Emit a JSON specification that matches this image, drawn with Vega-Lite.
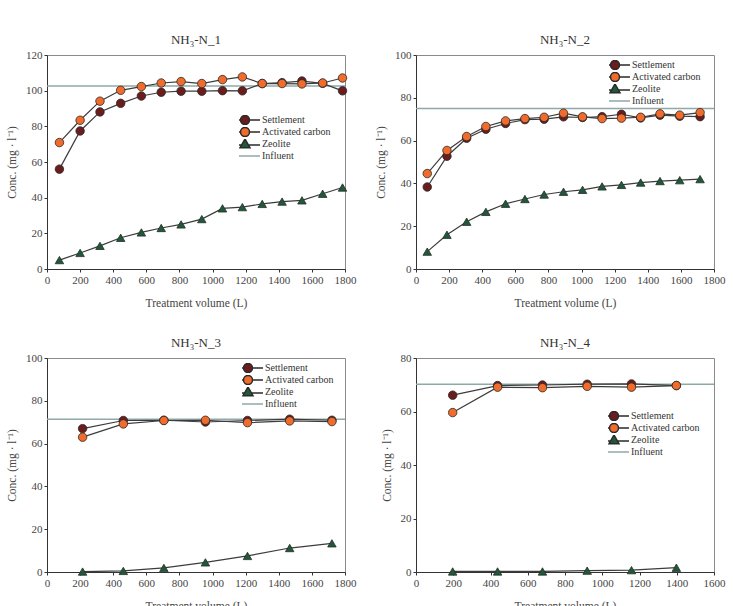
{
  "$schema": "https://vega.github.io/schema/vega-lite/v6.json",
  "padding": {"top": 33, "left": 6, "right": 0, "bottom": 0},
  "background": "white",
  "datasets": {
    "points": [
      {"panel": 1, "series": "Settlement", "volume": 75, "conc": 56.0},
      {"panel": 1, "series": "Settlement", "volume": 200, "conc": 77.4},
      {"panel": 1, "series": "Settlement", "volume": 320, "conc": 88.1},
      {"panel": 1, "series": "Settlement", "volume": 445, "conc": 92.9},
      {"panel": 1, "series": "Settlement", "volume": 570, "conc": 97.0},
      {"panel": 1, "series": "Settlement", "volume": 690, "conc": 99.1},
      {"panel": 1, "series": "Settlement", "volume": 810, "conc": 99.7},
      {"panel": 1, "series": "Settlement", "volume": 935, "conc": 99.7},
      {"panel": 1, "series": "Settlement", "volume": 1060, "conc": 100.0},
      {"panel": 1, "series": "Settlement", "volume": 1180, "conc": 99.9},
      {"panel": 1, "series": "Settlement", "volume": 1300, "conc": 104.0},
      {"panel": 1, "series": "Settlement", "volume": 1420, "conc": 104.5},
      {"panel": 1, "series": "Settlement", "volume": 1540, "conc": 105.4},
      {"panel": 1, "series": "Settlement", "volume": 1665, "conc": 104.1},
      {"panel": 1, "series": "Settlement", "volume": 1785, "conc": 99.9},
      {"panel": 1, "series": "Activated carbon", "volume": 75, "conc": 70.9},
      {"panel": 1, "series": "Activated carbon", "volume": 200, "conc": 83.4},
      {"panel": 1, "series": "Activated carbon", "volume": 320, "conc": 94.1},
      {"panel": 1, "series": "Activated carbon", "volume": 445, "conc": 100.2},
      {"panel": 1, "series": "Activated carbon", "volume": 570, "conc": 102.3},
      {"panel": 1, "series": "Activated carbon", "volume": 690, "conc": 104.3},
      {"panel": 1, "series": "Activated carbon", "volume": 810, "conc": 105.1},
      {"panel": 1, "series": "Activated carbon", "volume": 935, "conc": 104.0},
      {"panel": 1, "series": "Activated carbon", "volume": 1060, "conc": 106.2},
      {"panel": 1, "series": "Activated carbon", "volume": 1180, "conc": 107.7},
      {"panel": 1, "series": "Activated carbon", "volume": 1300, "conc": 104.0},
      {"panel": 1, "series": "Activated carbon", "volume": 1420, "conc": 104.0},
      {"panel": 1, "series": "Activated carbon", "volume": 1540, "conc": 103.8},
      {"panel": 1, "series": "Activated carbon", "volume": 1665, "conc": 104.3},
      {"panel": 1, "series": "Activated carbon", "volume": 1785, "conc": 107.1},
      {"panel": 1, "series": "Zeolite", "volume": 75, "conc": 5.0},
      {"panel": 1, "series": "Zeolite", "volume": 200, "conc": 9.0},
      {"panel": 1, "series": "Zeolite", "volume": 320, "conc": 13.0},
      {"panel": 1, "series": "Zeolite", "volume": 445, "conc": 17.5},
      {"panel": 1, "series": "Zeolite", "volume": 570, "conc": 20.5},
      {"panel": 1, "series": "Zeolite", "volume": 690, "conc": 23.0},
      {"panel": 1, "series": "Zeolite", "volume": 810, "conc": 25.0},
      {"panel": 1, "series": "Zeolite", "volume": 935, "conc": 28.0},
      {"panel": 1, "series": "Zeolite", "volume": 1060, "conc": 34.0},
      {"panel": 1, "series": "Zeolite", "volume": 1180, "conc": 34.7},
      {"panel": 1, "series": "Zeolite", "volume": 1300, "conc": 36.5},
      {"panel": 1, "series": "Zeolite", "volume": 1420, "conc": 37.8},
      {"panel": 1, "series": "Zeolite", "volume": 1540, "conc": 38.5},
      {"panel": 1, "series": "Zeolite", "volume": 1665, "conc": 42.2},
      {"panel": 1, "series": "Zeolite", "volume": 1785, "conc": 45.7},

      {"panel": 2, "series": "Settlement", "volume": 68, "conc": 38.3},
      {"panel": 2, "series": "Settlement", "volume": 187, "conc": 52.7},
      {"panel": 2, "series": "Settlement", "volume": 306, "conc": 61.1},
      {"panel": 2, "series": "Settlement", "volume": 422, "conc": 65.3},
      {"panel": 2, "series": "Settlement", "volume": 541, "conc": 68.0},
      {"panel": 2, "series": "Settlement", "volume": 658, "conc": 69.8},
      {"panel": 2, "series": "Settlement", "volume": 774, "conc": 70.0},
      {"panel": 2, "series": "Settlement", "volume": 891, "conc": 71.1},
      {"panel": 2, "series": "Settlement", "volume": 1006, "conc": 70.8},
      {"panel": 2, "series": "Settlement", "volume": 1124, "conc": 71.2},
      {"panel": 2, "series": "Settlement", "volume": 1241, "conc": 72.3},
      {"panel": 2, "series": "Settlement", "volume": 1357, "conc": 70.6},
      {"panel": 2, "series": "Settlement", "volume": 1474, "conc": 71.9},
      {"panel": 2, "series": "Settlement", "volume": 1593, "conc": 71.4},
      {"panel": 2, "series": "Settlement", "volume": 1716, "conc": 71.2},
      {"panel": 2, "series": "Activated carbon", "volume": 68, "conc": 44.6},
      {"panel": 2, "series": "Activated carbon", "volume": 187, "conc": 55.4},
      {"panel": 2, "series": "Activated carbon", "volume": 306, "conc": 61.9},
      {"panel": 2, "series": "Activated carbon", "volume": 422, "conc": 66.6},
      {"panel": 2, "series": "Activated carbon", "volume": 541, "conc": 69.2},
      {"panel": 2, "series": "Activated carbon", "volume": 658, "conc": 70.3},
      {"panel": 2, "series": "Activated carbon", "volume": 774, "conc": 70.9},
      {"panel": 2, "series": "Activated carbon", "volume": 891, "conc": 72.8},
      {"panel": 2, "series": "Activated carbon", "volume": 1006, "conc": 71.1},
      {"panel": 2, "series": "Activated carbon", "volume": 1124, "conc": 70.3},
      {"panel": 2, "series": "Activated carbon", "volume": 1241, "conc": 70.5},
      {"panel": 2, "series": "Activated carbon", "volume": 1357, "conc": 70.9},
      {"panel": 2, "series": "Activated carbon", "volume": 1474, "conc": 72.5},
      {"panel": 2, "series": "Activated carbon", "volume": 1593, "conc": 71.9},
      {"panel": 2, "series": "Activated carbon", "volume": 1716, "conc": 73.1},
      {"panel": 2, "series": "Zeolite", "volume": 68, "conc": 8.1},
      {"panel": 2, "series": "Zeolite", "volume": 187, "conc": 16.0},
      {"panel": 2, "series": "Zeolite", "volume": 306, "conc": 22.1},
      {"panel": 2, "series": "Zeolite", "volume": 422, "conc": 26.7},
      {"panel": 2, "series": "Zeolite", "volume": 541, "conc": 30.5},
      {"panel": 2, "series": "Zeolite", "volume": 658, "conc": 32.7},
      {"panel": 2, "series": "Zeolite", "volume": 774, "conc": 34.8},
      {"panel": 2, "series": "Zeolite", "volume": 891, "conc": 36.1},
      {"panel": 2, "series": "Zeolite", "volume": 1006, "conc": 37.0},
      {"panel": 2, "series": "Zeolite", "volume": 1124, "conc": 38.6},
      {"panel": 2, "series": "Zeolite", "volume": 1241, "conc": 39.3},
      {"panel": 2, "series": "Zeolite", "volume": 1357, "conc": 40.4},
      {"panel": 2, "series": "Zeolite", "volume": 1474, "conc": 41.1},
      {"panel": 2, "series": "Zeolite", "volume": 1593, "conc": 41.5},
      {"panel": 2, "series": "Zeolite", "volume": 1716, "conc": 42.0},

      {"panel": 3, "series": "Settlement", "volume": 215, "conc": 67.0},
      {"panel": 3, "series": "Settlement", "volume": 461, "conc": 70.8},
      {"panel": 3, "series": "Settlement", "volume": 706, "conc": 70.9},
      {"panel": 3, "series": "Settlement", "volume": 957, "conc": 70.1},
      {"panel": 3, "series": "Settlement", "volume": 1211, "conc": 70.8},
      {"panel": 3, "series": "Settlement", "volume": 1466, "conc": 71.4},
      {"panel": 3, "series": "Settlement", "volume": 1721, "conc": 70.9},
      {"panel": 3, "series": "Activated carbon", "volume": 215, "conc": 63.0},
      {"panel": 3, "series": "Activated carbon", "volume": 461, "conc": 69.2},
      {"panel": 3, "series": "Activated carbon", "volume": 706, "conc": 70.8},
      {"panel": 3, "series": "Activated carbon", "volume": 957, "conc": 70.9},
      {"panel": 3, "series": "Activated carbon", "volume": 1211, "conc": 69.8},
      {"panel": 3, "series": "Activated carbon", "volume": 1466, "conc": 70.6},
      {"panel": 3, "series": "Activated carbon", "volume": 1721, "conc": 70.3},
      {"panel": 3, "series": "Zeolite", "volume": 215, "conc": 0.2},
      {"panel": 3, "series": "Zeolite", "volume": 461, "conc": 0.5},
      {"panel": 3, "series": "Zeolite", "volume": 706, "conc": 1.9},
      {"panel": 3, "series": "Zeolite", "volume": 957, "conc": 4.5},
      {"panel": 3, "series": "Zeolite", "volume": 1211, "conc": 7.5},
      {"panel": 3, "series": "Zeolite", "volume": 1466, "conc": 11.2},
      {"panel": 3, "series": "Zeolite", "volume": 1721, "conc": 13.4},

      {"panel": 4, "series": "Settlement", "volume": 197, "conc": 66.1},
      {"panel": 4, "series": "Settlement", "volume": 438, "conc": 69.7},
      {"panel": 4, "series": "Settlement", "volume": 679, "conc": 69.9},
      {"panel": 4, "series": "Settlement", "volume": 919, "conc": 70.2},
      {"panel": 4, "series": "Settlement", "volume": 1157, "conc": 70.3},
      {"panel": 4, "series": "Settlement", "volume": 1398, "conc": 69.7},
      {"panel": 4, "series": "Activated carbon", "volume": 197, "conc": 59.6},
      {"panel": 4, "series": "Activated carbon", "volume": 438, "conc": 69.1},
      {"panel": 4, "series": "Activated carbon", "volume": 679, "conc": 68.9},
      {"panel": 4, "series": "Activated carbon", "volume": 919, "conc": 69.4},
      {"panel": 4, "series": "Activated carbon", "volume": 1157, "conc": 69.1},
      {"panel": 4, "series": "Activated carbon", "volume": 1398, "conc": 69.7},
      {"panel": 4, "series": "Zeolite", "volume": 197, "conc": 0.2},
      {"panel": 4, "series": "Zeolite", "volume": 438, "conc": 0.2},
      {"panel": 4, "series": "Zeolite", "volume": 679, "conc": 0.2},
      {"panel": 4, "series": "Zeolite", "volume": 919, "conc": 0.5},
      {"panel": 4, "series": "Zeolite", "volume": 1157, "conc": 0.7},
      {"panel": 4, "series": "Zeolite", "volume": 1398, "conc": 1.6}
    ],
    "influent": [
      {"panel": 1, "conc": 102.6},
      {"panel": 2, "conc": 75.0},
      {"panel": 3, "conc": 71.4},
      {"panel": 4, "conc": 70.2}
    ]
  },
  "columns": 2,
  "spacing": {"row": 27, "column": 18},
  "resolve": {
    "scale": {"color": "independent", "fill": "independent", "stroke": "independent", "shape": "independent"},
    "legend": {"color": "independent", "fill": "independent", "stroke": "independent", "shape": "independent"}
  },
  "concat": [
    {
      "title": "NH₃-N_1",
      "width": 298,
      "height": 214,
      "layer": [
        {
          "data": {"name": "influent"},
          "transform": [{"filter": "datum.panel === 1"}],
          "mark": {"type": "rule", "color": "#8fa9a9", "strokeWidth": 1.5},
          "encoding": {
            "y": {"field": "conc", "type": "quantitative", "scale": {"domain": [0, 120], "nice": false},
                  "axis": {"title": "Conc. (mg · l⁻¹)", "labelOverlap": false, "labelSeparation": 0, "tickCount": 7, "values": [0, 20, 40, 60, 80, 100, 120]}}
          }
        },
        {
          "data": {"name": "points"},
          "transform": [{"filter": "datum.panel === 1"}],
          "mark": {"type": "line", "color": "#3c3c3c", "strokeWidth": 1.2},
          "encoding": {
            "x": {"field": "volume", "type": "quantitative", "scale": {"domain": [0, 1800], "nice": false},
                  "axis": {"title": "Treatment volume (L)", "format": "d", "labelOverlap": false, "labelSeparation": 0, "tickCount": 10, "values": [0, 200, 400, 600, 800, 1000, 1200, 1400, 1600, 1800]}},
            "y": {"field": "conc", "type": "quantitative"},
            "detail": {"field": "series"}
          }
        },
        {
          "data": {"name": "points"},
          "transform": [{"filter": "datum.panel === 1 && datum.series !== 'Zeolite'"}],
          "mark": {"type": "point", "shape": "circle", "filled": true, "size": 72, "stroke": "#2a2a2a", "strokeWidth": 0.8, "opacity": 1},
          "encoding": {
            "x": {"field": "volume", "type": "quantitative"},
            "y": {"field": "conc", "type": "quantitative"},
            "color": {"field": "series", "type": "nominal", "legend": null,
                      "scale": {"domain": ["Settlement", "Activated carbon", "Zeolite"], "range": ["#6b1c1c", "#f06c2c", "#1e5a3a"]}}
          }
        },
        {
          "data": {"name": "points"},
          "transform": [{"filter": "datum.panel === 1 && datum.series === 'Zeolite'"}],
          "mark": {"type": "point", "shape": "triangle-up", "filled": true, "size": 72, "stroke": "#2a2a2a", "strokeWidth": 0.8, "opacity": 1},
          "encoding": {
            "x": {"field": "volume", "type": "quantitative"},
            "y": {"field": "conc", "type": "quantitative"},
            "color": {"field": "series", "type": "nominal", "legend": null}
          }
        },
        {
          "data": {"name": "points"},
          "transform": [{"filter": "false"}],
          "mark": {"type": "point", "filled": true, "size": 64, "strokeWidth": 1, "opacity": 1},
          "encoding": {
            "fill": {"field": "series", "type": "nominal",
                     "scale": {"domain": ["Settlement", "Activated carbon", "Zeolite", "Influent"], "range": ["#6b1c1c", "#f06c2c", "#1e5a3a", "transparent"]},
                     "legend": {"title": null, "orient": "none", "legendX": 192, "legendY": 60}},
            "stroke": {"field": "series", "type": "nominal",
                       "scale": {"domain": ["Settlement", "Activated carbon", "Zeolite", "Influent"], "range": ["#2a2a2a", "#2a2a2a", "#2a2a2a", "#8fa9a9"]},
                       "legend": {"title": null, "orient": "none", "legendX": 192, "legendY": 60}},
            "shape": {"field": "series", "type": "nominal",
                      "scale": {"domain": ["Settlement", "Activated carbon", "Zeolite", "Influent"],
                                "range": ["M-3,0H-0.9M0.9,0H3M-0.9,0A0.9,0.9,0,1,1,0.9,0A0.9,0.9,0,1,1,-0.9,0Z",
                                          "M-3,0H-0.9M0.9,0H3M-0.9,0A0.9,0.9,0,1,1,0.9,0A0.9,0.9,0,1,1,-0.9,0Z",
                                          "M-3,0.2H-0.7M0.7,0.2H3M0,-1L1,0.75L-1,0.75Z",
                                          "M-3,0H3"]},
                      "legend": {"title": null, "orient": "none", "legendX": 192, "legendY": 60}}
          }
        }
      ]
    },
    {
      "title": "NH₃-N_2",
      "width": 298,
      "height": 214,
      "layer": [
        {
          "data": {"name": "influent"},
          "transform": [{"filter": "datum.panel === 2"}],
          "mark": {"type": "rule", "color": "#8fa9a9", "strokeWidth": 1.5},
          "encoding": {
            "y": {"field": "conc", "type": "quantitative", "scale": {"domain": [0, 100], "nice": false},
                  "axis": {"title": "Conc. (mg · l⁻¹)", "labelOverlap": false, "labelSeparation": 0, "tickCount": 6, "values": [0, 20, 40, 60, 80, 100]}}
          }
        },
        {
          "data": {"name": "points"},
          "transform": [{"filter": "datum.panel === 2"}],
          "mark": {"type": "line", "color": "#3c3c3c", "strokeWidth": 1.2},
          "encoding": {
            "x": {"field": "volume", "type": "quantitative", "scale": {"domain": [0, 1800], "nice": false},
                  "axis": {"title": "Treatment volume (L)", "format": "d", "labelOverlap": false, "labelSeparation": 0, "tickCount": 10, "values": [0, 200, 400, 600, 800, 1000, 1200, 1400, 1600, 1800]}},
            "y": {"field": "conc", "type": "quantitative"},
            "detail": {"field": "series"}
          }
        },
        {
          "data": {"name": "points"},
          "transform": [{"filter": "datum.panel === 2 && datum.series !== 'Zeolite'"}],
          "mark": {"type": "point", "shape": "circle", "filled": true, "size": 72, "stroke": "#2a2a2a", "strokeWidth": 0.8, "opacity": 1},
          "encoding": {
            "x": {"field": "volume", "type": "quantitative"},
            "y": {"field": "conc", "type": "quantitative"},
            "color": {"field": "series", "type": "nominal", "legend": null,
                      "scale": {"domain": ["Settlement", "Activated carbon", "Zeolite"], "range": ["#6b1c1c", "#f06c2c", "#1e5a3a"]}}
          }
        },
        {
          "data": {"name": "points"},
          "transform": [{"filter": "datum.panel === 2 && datum.series === 'Zeolite'"}],
          "mark": {"type": "point", "shape": "triangle-up", "filled": true, "size": 72, "stroke": "#2a2a2a", "strokeWidth": 0.8, "opacity": 1},
          "encoding": {
            "x": {"field": "volume", "type": "quantitative"},
            "y": {"field": "conc", "type": "quantitative"},
            "color": {"field": "series", "type": "nominal", "legend": null}
          }
        },
        {
          "data": {"name": "points"},
          "transform": [{"filter": "false"}],
          "mark": {"type": "point", "filled": true, "size": 64, "strokeWidth": 1, "opacity": 1},
          "encoding": {
            "fill": {"field": "series", "type": "nominal",
                     "scale": {"domain": ["Settlement", "Activated carbon", "Zeolite", "Influent"], "range": ["#6b1c1c", "#f06c2c", "#1e5a3a", "transparent"]},
                     "legend": {"title": null, "orient": "none", "legendX": 193, "legendY": 5}},
            "stroke": {"field": "series", "type": "nominal",
                       "scale": {"domain": ["Settlement", "Activated carbon", "Zeolite", "Influent"], "range": ["#2a2a2a", "#2a2a2a", "#2a2a2a", "#8fa9a9"]},
                       "legend": {"title": null, "orient": "none", "legendX": 193, "legendY": 5}},
            "shape": {"field": "series", "type": "nominal",
                      "scale": {"domain": ["Settlement", "Activated carbon", "Zeolite", "Influent"],
                                "range": ["M-3,0H-0.9M0.9,0H3M-0.9,0A0.9,0.9,0,1,1,0.9,0A0.9,0.9,0,1,1,-0.9,0Z",
                                          "M-3,0H-0.9M0.9,0H3M-0.9,0A0.9,0.9,0,1,1,0.9,0A0.9,0.9,0,1,1,-0.9,0Z",
                                          "M-3,0.2H-0.7M0.7,0.2H3M0,-1L1,0.75L-1,0.75Z",
                                          "M-3,0H3"]},
                      "legend": {"title": null, "orient": "none", "legendX": 193, "legendY": 5}}
          }
        }
      ]
    },
    {
      "title": "NH₃-N_3",
      "width": 298,
      "height": 214,
      "layer": [
        {
          "data": {"name": "influent"},
          "transform": [{"filter": "datum.panel === 3"}],
          "mark": {"type": "rule", "color": "#8fa9a9", "strokeWidth": 1.5},
          "encoding": {
            "y": {"field": "conc", "type": "quantitative", "scale": {"domain": [0, 100], "nice": false},
                  "axis": {"title": "Conc. (mg · l⁻¹)", "labelOverlap": false, "labelSeparation": 0, "tickCount": 6, "values": [0, 20, 40, 60, 80, 100]}}
          }
        },
        {
          "data": {"name": "points"},
          "transform": [{"filter": "datum.panel === 3"}],
          "mark": {"type": "line", "color": "#3c3c3c", "strokeWidth": 1.2},
          "encoding": {
            "x": {"field": "volume", "type": "quantitative", "scale": {"domain": [0, 1800], "nice": false},
                  "axis": {"title": "Treatment volume (L)", "format": "d", "labelOverlap": false, "labelSeparation": 0, "tickCount": 10, "values": [0, 200, 400, 600, 800, 1000, 1200, 1400, 1600, 1800]}},
            "y": {"field": "conc", "type": "quantitative"},
            "detail": {"field": "series"}
          }
        },
        {
          "data": {"name": "points"},
          "transform": [{"filter": "datum.panel === 3 && datum.series !== 'Zeolite'"}],
          "mark": {"type": "point", "shape": "circle", "filled": true, "size": 72, "stroke": "#2a2a2a", "strokeWidth": 0.8, "opacity": 1},
          "encoding": {
            "x": {"field": "volume", "type": "quantitative"},
            "y": {"field": "conc", "type": "quantitative"},
            "color": {"field": "series", "type": "nominal", "legend": null,
                      "scale": {"domain": ["Settlement", "Activated carbon", "Zeolite"], "range": ["#6b1c1c", "#f06c2c", "#1e5a3a"]}}
          }
        },
        {
          "data": {"name": "points"},
          "transform": [{"filter": "datum.panel === 3 && datum.series === 'Zeolite'"}],
          "mark": {"type": "point", "shape": "triangle-up", "filled": true, "size": 72, "stroke": "#2a2a2a", "strokeWidth": 0.8, "opacity": 1},
          "encoding": {
            "x": {"field": "volume", "type": "quantitative"},
            "y": {"field": "conc", "type": "quantitative"},
            "color": {"field": "series", "type": "nominal", "legend": null}
          }
        },
        {
          "data": {"name": "points"},
          "transform": [{"filter": "false"}],
          "mark": {"type": "point", "filled": true, "size": 64, "strokeWidth": 1, "opacity": 1},
          "encoding": {
            "fill": {"field": "series", "type": "nominal",
                     "scale": {"domain": ["Settlement", "Activated carbon", "Zeolite", "Influent"], "range": ["#6b1c1c", "#f06c2c", "#1e5a3a", "transparent"]},
                     "legend": {"title": null, "orient": "none", "legendX": 195, "legendY": 5}},
            "stroke": {"field": "series", "type": "nominal",
                       "scale": {"domain": ["Settlement", "Activated carbon", "Zeolite", "Influent"], "range": ["#2a2a2a", "#2a2a2a", "#2a2a2a", "#8fa9a9"]},
                       "legend": {"title": null, "orient": "none", "legendX": 195, "legendY": 5}},
            "shape": {"field": "series", "type": "nominal",
                      "scale": {"domain": ["Settlement", "Activated carbon", "Zeolite", "Influent"],
                                "range": ["M-3,0H-0.9M0.9,0H3M-0.9,0A0.9,0.9,0,1,1,0.9,0A0.9,0.9,0,1,1,-0.9,0Z",
                                          "M-3,0H-0.9M0.9,0H3M-0.9,0A0.9,0.9,0,1,1,0.9,0A0.9,0.9,0,1,1,-0.9,0Z",
                                          "M-3,0.2H-0.7M0.7,0.2H3M0,-1L1,0.75L-1,0.75Z",
                                          "M-3,0H3"]},
                      "legend": {"title": null, "orient": "none", "legendX": 195, "legendY": 5}}
          }
        }
      ]
    },
    {
      "title": "NH₃-N_4",
      "width": 298,
      "height": 214,
      "layer": [
        {
          "data": {"name": "influent"},
          "transform": [{"filter": "datum.panel === 4"}],
          "mark": {"type": "rule", "color": "#8fa9a9", "strokeWidth": 1.5},
          "encoding": {
            "y": {"field": "conc", "type": "quantitative", "scale": {"domain": [0, 80], "nice": false},
                  "axis": {"title": "Conc. (mg · l⁻¹)", "labelOverlap": false, "labelSeparation": 0, "tickCount": 5, "values": [0, 20, 40, 60, 80]}}
          }
        },
        {
          "data": {"name": "points"},
          "transform": [{"filter": "datum.panel === 4"}],
          "mark": {"type": "line", "color": "#3c3c3c", "strokeWidth": 1.2},
          "encoding": {
            "x": {"field": "volume", "type": "quantitative", "scale": {"domain": [0, 1600], "nice": false},
                  "axis": {"title": "Treatment volume (L)", "format": "d", "labelOverlap": false, "labelSeparation": 0, "tickCount": 9, "values": [0, 200, 400, 600, 800, 1000, 1200, 1400, 1600]}},
            "y": {"field": "conc", "type": "quantitative"},
            "detail": {"field": "series"}
          }
        },
        {
          "data": {"name": "points"},
          "transform": [{"filter": "datum.panel === 4 && datum.series !== 'Zeolite'"}],
          "mark": {"type": "point", "shape": "circle", "filled": true, "size": 72, "stroke": "#2a2a2a", "strokeWidth": 0.8, "opacity": 1},
          "encoding": {
            "x": {"field": "volume", "type": "quantitative"},
            "y": {"field": "conc", "type": "quantitative"},
            "color": {"field": "series", "type": "nominal", "legend": null,
                      "scale": {"domain": ["Settlement", "Activated carbon", "Zeolite"], "range": ["#6b1c1c", "#f06c2c", "#1e5a3a"]}}
          }
        },
        {
          "data": {"name": "points"},
          "transform": [{"filter": "datum.panel === 4 && datum.series === 'Zeolite'"}],
          "mark": {"type": "point", "shape": "triangle-up", "filled": true, "size": 72, "stroke": "#2a2a2a", "strokeWidth": 0.8, "opacity": 1},
          "encoding": {
            "x": {"field": "volume", "type": "quantitative"},
            "y": {"field": "conc", "type": "quantitative"},
            "color": {"field": "series", "type": "nominal", "legend": null}
          }
        },
        {
          "data": {"name": "points"},
          "transform": [{"filter": "false"}],
          "mark": {"type": "point", "filled": true, "size": 64, "strokeWidth": 1, "opacity": 1},
          "encoding": {
            "fill": {"field": "series", "type": "nominal",
                     "scale": {"domain": ["Settlement", "Activated carbon", "Zeolite", "Influent"], "range": ["#6b1c1c", "#f06c2c", "#1e5a3a", "transparent"]},
                     "legend": {"title": null, "orient": "none", "legendX": 192, "legendY": 53}},
            "stroke": {"field": "series", "type": "nominal",
                       "scale": {"domain": ["Settlement", "Activated carbon", "Zeolite", "Influent"], "range": ["#2a2a2a", "#2a2a2a", "#2a2a2a", "#8fa9a9"]},
                       "legend": {"title": null, "orient": "none", "legendX": 192, "legendY": 53}},
            "shape": {"field": "series", "type": "nominal",
                      "scale": {"domain": ["Settlement", "Activated carbon", "Zeolite", "Influent"],
                                "range": ["M-3,0H-0.9M0.9,0H3M-0.9,0A0.9,0.9,0,1,1,0.9,0A0.9,0.9,0,1,1,-0.9,0Z",
                                          "M-3,0H-0.9M0.9,0H3M-0.9,0A0.9,0.9,0,1,1,0.9,0A0.9,0.9,0,1,1,-0.9,0Z",
                                          "M-3,0.2H-0.7M0.7,0.2H3M0,-1L1,0.75L-1,0.75Z",
                                          "M-3,0H3"]},
                      "legend": {"title": null, "orient": "none", "legendX": 192, "legendY": 53}}
          }
        }
      ]
    }
  ],
  "config": {
    "font": "Liberation Serif",
    "view": {"stroke": "#8a8a8a", "strokeWidth": 1},
    "axis": {
      "grid": false,
      "labelFont": "Liberation Serif",
      "labelFontSize": 11,
      "labelColor": "#444444",
      "labelPadding": 2,
      "labelOverlap": false,
      "labelSeparation": 0,
      "labelBound": false,
      "labelFlush": false,
      "titleFont": "Liberation Serif",
      "titleFontSize": 11.5,
      "titleFontWeight": "normal",
      "titleColor": "#444444",
      "domainColor": "#333333",
      "tickColor": "#333333",
      "tickSize": 3
    },
    "axisX": {"titlePadding": 12},
    "axisY": {"titlePadding": 8},
    "legend": {
      "labelFont": "Liberation Serif",
      "labelFontSize": 10,
      "labelColor": "#333333",
      "padding": 0,
      "rowPadding": 2,
      "clipHeight": 10,
      "labelOffset": 11
    },
    "title": {
      "font": "Liberation Serif",
      "fontSize": 13,
      "fontWeight": "normal",
      "color": "#333333",
      "offset": 2,
      "frame": "group"
    }
  }
}
